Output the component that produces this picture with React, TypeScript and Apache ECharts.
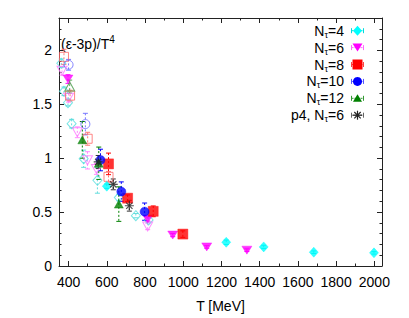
import React, { useEffect, useRef } from 'react';
import * as echarts from 'echarts';

const xMajor = [400, 600, 800, 1000, 1200, 1400, 1600, 1800, 2000];
const xMinor = [500, 700, 900, 1100, 1300, 1500, 1700, 1900];
const yMajor = [0, 0.5, 1, 1.5, 2];
const yMinor = [0.1, 0.2, 0.3, 0.4, 0.6, 0.7, 0.8, 0.9, 1.1, 1.2, 1.3, 1.4, 1.6, 1.7, 1.8, 1.9, 2.1, 2.2];

// [T (MeV), (e-3p)/T^4, error]
const nt4 = [[600, 0.74, 0.02], [1225, 0.22, 0.02], [1421, 0.177, 0.015], [1683, 0.128, 0.012], [1998, 0.122, 0.012]];
const nt6 = [[397, 1.734, 0.04], [814, 0.437, 0.02], [945, 0.287, 0.015], [1123, 0.177, 0.012], [1333, 0.147, 0.012]];
const nt8 = [[609, 0.947, 0.1], [709, 0.629, 0.03], [843, 0.507, 0.05], [998, 0.296, 0.03]];
const nt10 = [[567, 0.983, 0.1], [676, 0.69, 0.09], [798, 0.504, 0.08]];
const nt12 = [[472, 1.17, 0.17], [558, 0.953, 0.15], [663, 0.574, 0.16]];
const p4nt6 = [[555, 0.965, 0.06], [634, 0.757, 0.05], [718, 0.559, 0.05]];
const nt4Open = [[362, 1.88, 0.04], [376, 1.62, 0.04], [397, 1.515, 0.03], [416, 1.32, 0.04], [479, 0.995, 0.08], [551, 0.795, 0.12], [663, 0.635, 0.03], [752, 0.467, 0.02], [819, 0.427, 0.02]];
const nt6Open = [[366, 1.81, 0.04], [400, 1.56, 0.04], [446, 1.24, 0.05], [499, 0.98, 0.08], [546, 0.9, 0.05], [814, 0.367, 0.03]];
const nt8Open = [[376, 1.94, 0.07], [408, 1.58, 0.05], [500, 1.18, 0.06], [609, 0.827, 0.05]];
const nt10Open = [[400, 1.866, 0.05], [488, 1.316, 0.1]];
const nt12Open = [[406, 1.664, 0.06]];

const legendLabels = [
  '{n|N}{s|τ}{n|=4}',
  '{n|N}{s|τ}{n|=6}',
  '{n|N}{s|τ}{n|=8}',
  '{n|N}{s|τ}{n|=10}',
  '{n|N}{s|τ}{n|=12}',
  '{n|p4, N}{s|τ}{n|=6}',
];
const legendColors = ['#00ffff', '#ff00ff', '#ff0000', '#0000ff', '#008000', '#222222'];
const legendBarColors = ['#00dddd', '#ff66ff', '#ff4444', '#5555ff', '#339933', '#666666'];

const FONT = "'Liberation Sans', Arial, Helvetica, sans-serif";
const AXIS_COLOR = '#222';
const X_MIN = 350;
const X_MAX = 2040;
const Y_MIN = 0;
const Y_MAX = 2.3;

const TRI_DOWN = 'path://M0,0L10,0L5,8.66Z';
const TRI_UP = 'path://M5,0L10,8.66L0,8.66Z';
const STAR = 'path://M5,0L5,10M0,5L10,5M1.5,1.5L8.5,8.5M1.5,8.5L8.5,1.5';

function xAxis(position: string, values: number[], len: number, main: boolean, labels: boolean): any {
  return {
    type: 'value',
    position,
    min: X_MIN,
    max: X_MAX,
    name: labels ? 'T [MeV]' : '',
    nameLocation: 'middle',
    nameGap: 33,
    nameTextStyle: { color: '#000', fontSize: 14, fontFamily: FONT },
    axisLine: { show: main, onZero: false, lineStyle: { color: AXIS_COLOR, width: 1 } },
    axisTick: { show: true, inside: true, length: len, customValues: values, lineStyle: { color: AXIS_COLOR, width: 1 } },
    axisLabel: labels
      ? { show: true, customValues: values, margin: 9, color: '#000', fontSize: 14, fontFamily: FONT, formatter: (v: number) => String(v) }
      : { show: false },
    splitLine: { show: false },
    minorTick: { show: false },
  };
}

function yAxis(position: string, values: number[], len: number, main: boolean, labels: boolean): any {
  return {
    type: 'value',
    position,
    min: Y_MIN,
    max: Y_MAX,
    axisLine: { show: main, onZero: false, lineStyle: { color: AXIS_COLOR, width: 1 } },
    axisTick: { show: true, inside: true, length: len, customValues: values, lineStyle: { color: AXIS_COLOR, width: 1 } },
    axisLabel: labels
      ? { show: true, customValues: values, margin: 7, color: '#000', fontSize: 14, fontFamily: FONT, formatter: (v: number) => String(v) }
      : { show: false },
    splitLine: { show: false },
    minorTick: { show: false },
  };
}

function errSeries(data: number[][], color: string, dash: number[]): any {
  return {
    type: 'custom',
    xAxisIndex: 0,
    yAxisIndex: 0,
    silent: true,
    z: 1,
    data,
    encode: { x: 0, y: 1 },
    renderItem: (params: any, api: any) => {
      const x = api.value(0);
      const y = api.value(1);
      const e = api.value(2);
      const top = api.coord([x, y + e]);
      const bot = api.coord([x, y - e]);
      const cap = 2.5;
      const style = { stroke: color, lineWidth: 1, lineDash: dash, fill: 'none' };
      const solid = { stroke: color, lineWidth: 1, fill: 'none' };
      return {
        type: 'group',
        children: [
          { type: 'line', shape: { x1: top[0], y1: top[1], x2: bot[0], y2: bot[1] }, style },
          { type: 'line', shape: { x1: top[0] - cap, y1: top[1], x2: top[0] + cap, y2: top[1] }, style: solid },
          { type: 'line', shape: { x1: bot[0] - cap, y1: bot[1], x2: bot[0] + cap, y2: bot[1] }, style: solid },
        ],
      };
    },
  };
}

function scatter(name: string, data: number[][], symbol: string, size: number | number[], color: string, open: boolean, z: number): any {
  return {
    type: 'scatter',
    name,
    xAxisIndex: 0,
    yAxisIndex: 0,
    symbol,
    symbolSize: size,
    z,
    data: data.map((d) => [d[0], d[1]]),
    itemStyle: open
      ? { color: 'rgba(255,255,255,0)', borderColor: color, borderWidth: 1 }
      : symbol === STAR
        ? { color: 'rgba(0,0,0,0)', borderColor: color, borderWidth: 1.2 }
        : { color, borderColor: color, borderWidth: 0.5 },
    emphasis: { disabled: true },
  };
}

function legendMarker(i: number, cx: number, cy: number): any {
  const fill = legendColors[i];
  switch (i) {
    case 0:
      return { type: 'polygon', shape: { points: [[cx, cy - 5], [cx + 4.5, cy], [cx, cy + 5], [cx - 4.5, cy]] }, style: { fill } };
    case 1:
      return { type: 'polygon', shape: { points: [[cx - 5, cy - 4], [cx + 5, cy - 4], [cx, cy + 4]] }, style: { fill } };
    case 2:
      return { type: 'rect', shape: { x: cx - 5, y: cy - 5, width: 10, height: 10 }, style: { fill } };
    case 3:
      return { type: 'circle', shape: { cx, cy, r: 4.5 }, style: { fill } };
    case 4:
      return { type: 'polygon', shape: { points: [[cx, cy - 4], [cx + 4.5, cy + 3.5], [cx - 4.5, cy + 3.5]] }, style: { fill } };
    default:
      return {
        type: 'group',
        children: [
          { type: 'line', shape: { x1: cx, y1: cy - 4.5, x2: cx, y2: cy + 4.5 }, style: { stroke: fill, lineWidth: 1.2 } },
          { type: 'line', shape: { x1: cx - 4.5, y1: cy, x2: cx + 4.5, y2: cy }, style: { stroke: fill, lineWidth: 1.2 } },
          { type: 'line', shape: { x1: cx - 3.2, y1: cy - 3.2, x2: cx + 3.2, y2: cy + 3.2 }, style: { stroke: fill, lineWidth: 1.2 } },
          { type: 'line', shape: { x1: cx - 3.2, y1: cy + 3.2, x2: cx + 3.2, y2: cy - 3.2 }, style: { stroke: fill, lineWidth: 1.2 } },
        ],
      };
  }
}

function legendGraphics(): any[] {
  const out: any[] = [];
  legendLabels.forEach((label, i) => {
    const cy = 30.7 + i * 16.9;
    const cx = 357.5;
    const bar = legendBarColors[i];
    out.push({
      type: 'text',
      x: 344,
      y: cy,
      style: {
        text: label,
        align: 'right',
        verticalAlign: 'middle',
        rich: {
          n: { fontSize: 14, lineHeight: 14, fontFamily: FONT, fill: '#000' },
          s: { fontSize: 9, lineHeight: 6, fontFamily: FONT, fill: '#000', padding: [8, 0, 0, 0] },
        },
      },
    });
    out.push({
      type: 'group',
      children: [
        { type: 'line', shape: { x1: cx - 6, y1: cy, x2: cx + 6, y2: cy }, style: { stroke: bar, lineWidth: 1, lineDash: [2, 1] } },
        { type: 'line', shape: { x1: cx - 6, y1: cy - 2.5, x2: cx - 6, y2: cy + 2.5 }, style: { stroke: bar, lineWidth: 1 } },
        { type: 'line', shape: { x1: cx + 6, y1: cy - 2.5, x2: cx + 6, y2: cy + 2.5 }, style: { stroke: bar, lineWidth: 1 } },
        legendMarker(i, cx, cy),
      ],
    });
  });
  return out;
}

export default function App() {
  const ref = useRef<HTMLDivElement>(null);
  useEffect(() => {
    if (!ref.current) return;
    const chart = echarts.init(ref.current, undefined, { renderer: 'svg' });
    const option: any = {
      animation: false,
      backgroundColor: '#fff',
      grid: { left: 59, right: 27, top: 18, bottom: 49, containLabel: false },
      xAxis: [
        xAxis('bottom', xMajor, 5, true, true),
        xAxis('bottom', xMinor, 2.5, false, false),
        xAxis('top', xMajor, 5, true, false),
        xAxis('top', xMinor, 2.5, false, false),
      ],
      yAxis: [
        yAxis('left', yMajor, 5, true, true),
        yAxis('left', yMinor, 2.5, false, false),
        yAxis('right', yMajor, 5, true, false),
        yAxis('right', yMinor, 2.5, false, false),
      ],
      graphic: [
        {
          type: 'text',
          left: 61,
          top: 34,
          style: {
            text: '{a|(ε-3p)/T}{b|4}',
            rich: {
              a: { fontSize: 14, fontFamily: FONT, fill: '#000' },
              b: { fontSize: 10, fontFamily: FONT, fill: '#000', padding: [0, 0, 9, 0] },
            },
          },
        },
        ...legendGraphics(),
      ],
      series: [
        errSeries(nt4Open, '#66dddd', [2, 2]),
        errSeries(nt6Open, '#ff88ff', [2, 2]),
        errSeries(nt8Open, '#ff7777', [2, 2]),
        errSeries(nt10Open, '#7777ff', [2, 2]),
        errSeries(nt12Open, '#55aa55', [2, 2]),
        errSeries(nt4, '#00dddd', [2, 2]),
        errSeries(nt6, '#ff00ff', [2, 2]),
        errSeries(nt8, '#ff0000', [2, 2]),
        errSeries(nt10, '#0000ff', [2, 2]),
        errSeries(nt12, '#008000', [2, 2]),
        errSeries(p4nt6, '#333333', [2, 2]),
        scatter('Nt4o', nt4Open, 'diamond', [9, 10], '#55dddd', true, 2),
        scatter('Nt6o', nt6Open, TRI_DOWN, [10, 9], '#ff77ff', true, 2),
        scatter('Nt8o', nt8Open, 'rect', 9, '#ff6666', true, 2),
        scatter('Nt10o', nt10Open, 'circle', 9, '#6666ff', true, 2),
        scatter('Nt12o', nt12Open, TRI_UP, [10, 9], '#449944', true, 2),
        scatter('Nt4', nt4, 'diamond', [9, 10], '#00ffff', false, 3),
        scatter('Nt6', nt6, TRI_DOWN, [10, 8], '#ff00ff', false, 3),
        scatter('Nt8', nt8, 'rect', 10, '#ff0000', false, 3),
        scatter('Nt10', nt10, 'circle', 9, '#0000ff', false, 3),
        scatter('Nt12', nt12, TRI_UP, [9, 8], '#008000', false, 3),
        scatter('p4Nt6', p4nt6, STAR, 9, '#222222', false, 3),
      ],
    };
    chart.setOption(option);
    return () => chart.dispose();
  }, []);
  return <div ref={ref} style={{ width: 409, height: 318, position: 'absolute', left: 0, top: 0 }} />;
}
